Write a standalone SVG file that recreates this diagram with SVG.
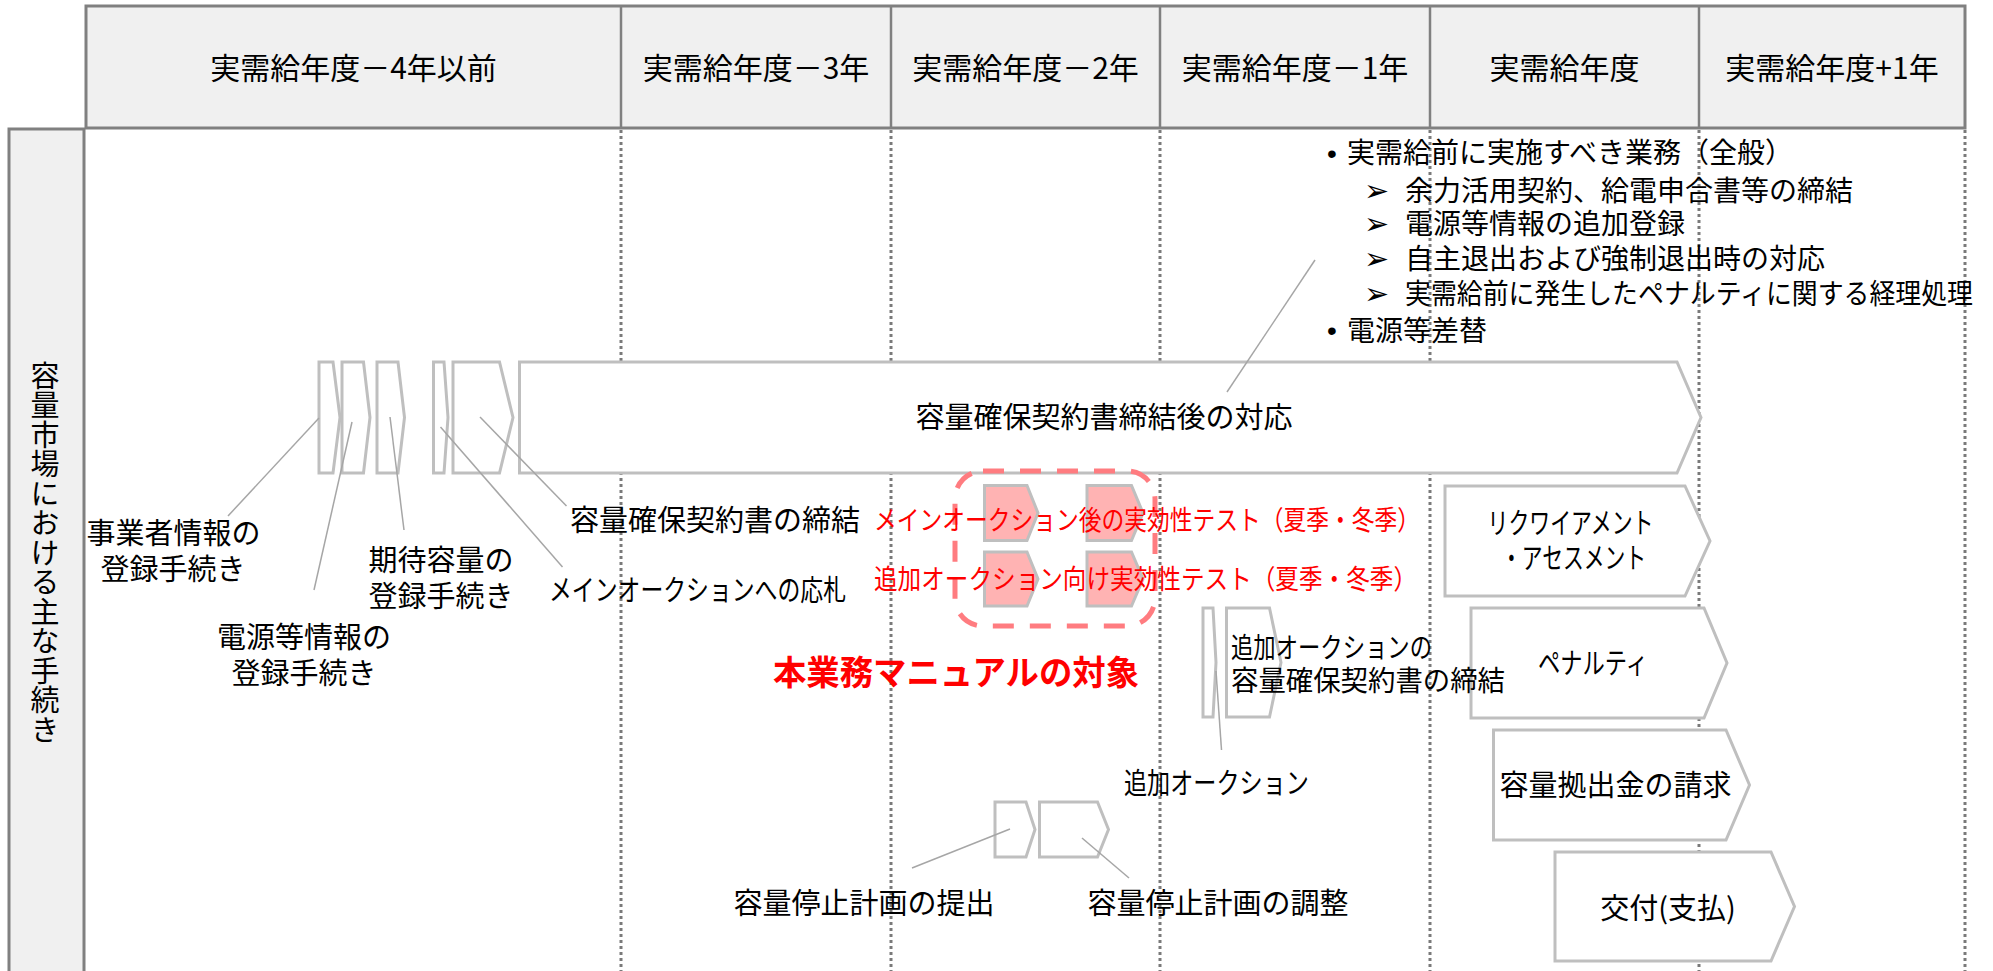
<svg xmlns="http://www.w3.org/2000/svg" width="1993" height="971" viewBox="0 0 1993 971">
<defs>
<style>
text{font-family:"Noto Sans CJK JP","Noto Sans CJK SC",sans-serif;fill:#000;}
.h{font-size:30px;text-anchor:middle}
.t{font-size:29px;text-anchor:middle}
.ts{font-size:28px}
.red{font-size:27px;fill:#ff0000}
.big{font-size:34px;font-weight:bold;fill:#ff0000;text-anchor:middle}
.shape{fill:#fff;stroke:#bfbfbf;stroke-width:3}
.pink{fill:#ffb3b3;stroke:#bfbfbf;stroke-width:3}
.grid{stroke:#7a7a7a;stroke-width:3;stroke-dasharray:3 3;fill:none}
.lead{stroke:#a6a6a6;stroke-width:1.5;fill:none}
.frame{fill:#f0f0f0;stroke:#808080;stroke-width:3}
.div{stroke:#808080;stroke-width:2.5}
.arr{font-family:"DejaVu Sans",sans-serif;font-size:30px;font-weight:bold}
.bul{font-family:"Liberation Sans",sans-serif;font-size:28px}
</style>
</defs>
<rect width="1993" height="971" fill="#fff"/>

<g id="header">
<rect class="frame" x="86" y="6" width="1879" height="122"/>
<line class="div" x1="621" y1="6" x2="621" y2="128"/>
<line class="div" x1="891" y1="6" x2="891" y2="128"/>
<line class="div" x1="1160" y1="6" x2="1160" y2="128"/>
<line class="div" x1="1430" y1="6" x2="1430" y2="128"/>
<line class="div" x1="1699" y1="6" x2="1699" y2="128"/>
<text class="h" x="353.5" y="78.5">実需給年度－4年以前</text>
<text class="h" x="756" y="78.5">実需給年度－3年</text>
<text class="h" x="1025.5" y="78.5">実需給年度－2年</text>
<text class="h" x="1295" y="78.5">実需給年度－1年</text>
<text class="h" x="1564.5" y="78.5">実需給年度</text>
<text class="h" x="1832" y="78.5">実需給年度+1年</text>
</g>

<g id="row-label">
<rect class="frame" x="9" y="129" width="75" height="860"/>
<text x="45" y="553" style="writing-mode:vertical-rl;text-orientation:upright;font-size:29px;letter-spacing:0.5px" text-anchor="middle">容量市場における主な手続き</text>
</g>

<g id="grid">
<line class="grid" x1="621" y1="130" x2="621" y2="971"/>
<line class="grid" x1="891" y1="130" x2="891" y2="971"/>
<line class="grid" x1="1160" y1="130" x2="1160" y2="971"/>
<line class="grid" x1="1430" y1="130" x2="1430" y2="971"/>
<line class="grid" x1="1699" y1="130" x2="1699" y2="971"/>
<line class="grid" x1="1965" y1="130" x2="1965" y2="971"/>
</g>

<g id="notes">
<text class="bul" x="1327" y="163">•</text>
<text class="ts" x="1347" y="163">実需給前に実施すべき業務（全般）</text>
<text class="arr" x="1364" y="201">➢</text>
<text class="ts" x="1405" y="200.5">余力活用契約、給電申合書等の締結</text>
<text class="arr" x="1364" y="234">➢</text>
<text class="ts" x="1405" y="233.5">電源等情報の追加登録</text>
<text class="arr" x="1364" y="269">➢</text>
<text class="ts" x="1405" y="268.5">自主退出および強制退出時の対応</text>
<text class="arr" x="1364" y="304">➢</text>
<text class="ts" x="1405" y="303.5" textLength="568" lengthAdjust="spacingAndGlyphs">実需給前に発生したペナルティに関する経理処理</text>
<text class="bul" x="1327" y="340">•</text>
<text class="ts" x="1347" y="340.5">電源等差替</text>
</g>

<g id="n-jigyosha">
<path class="shape" d="M319,362 H333 L340,417.5 L333,473 H319 Z"/>
<text class="t" x="173.5" y="544">事業者情報の</text>
<text class="t" x="173" y="580">登録手続き</text>
</g>
<g id="n-dengen">
<path class="shape" d="M342,362 H363.5 L370,417.5 L363.5,473 H342 Z"/>
<text class="t" x="304" y="648">電源等情報の</text>
<text class="t" x="304" y="684">登録手続き</text>
</g>
<g id="n-kitai">
<path class="shape" d="M377,362 H398 L404.5,417.5 L398,473 H377 Z"/>
<text class="t" x="441" y="571">期待容量の</text>
<text class="t" x="441" y="607">登録手続き</text>
</g>
<g id="n-main-bid">
<path class="shape" d="M433.5,362 H444 L448,417.5 L444,473 H433.5 Z"/>
<text class="t" x="697.5" y="601" textLength="297" lengthAdjust="spacingAndGlyphs">メインオークションへの応札</text>
</g>
<g id="n-contract">
<path class="shape" d="M453,362 H499.5 L513,417.5 L499.5,473 H453 Z"/>
<text class="t" x="715" y="531">容量確保契約書の締結</text>
</g>
<g id="n-after-contract">
<path class="shape" d="M519.5,362 H1677 L1701,417.5 L1677,473 H519.5 Z"/>
<text class="t" x="1104" y="428">容量確保契約書締結後の対応</text>
</g>

<g id="n-test">
<rect x="955" y="471" width="200" height="155" rx="28" ry="28" fill="none" stroke="#ff7c80" stroke-width="5" stroke-dasharray="21 16"/>
<path class="pink" d="M984.5,485.5 H1027 L1038,513 L1027,540.5 H984.5 Z"/>
<path class="pink" d="M1087,485.5 H1131.5 L1143,513 L1131.5,540.5 H1087 Z"/>
<path class="pink" d="M984.5,552 H1027 L1038,579 L1027,606 H984.5 Z"/>
<path class="pink" d="M1087,552 H1131.5 L1143,579 L1131.5,606 H1087 Z"/>
<text class="red" x="874" y="530" textLength="546" lengthAdjust="spacingAndGlyphs">メインオークション後の実効性テスト（夏季・冬季）</text>
<text class="red" x="874" y="589" textLength="543" lengthAdjust="spacingAndGlyphs">追加オークション向け実効性テスト（夏季・冬季）</text>
<text class="big" x="956" y="685" textLength="366" lengthAdjust="spacingAndGlyphs">本業務マニュアルの対象</text>
</g>

<g id="n-stop-submit">
<path class="shape" d="M995,802 H1026 L1035,829.5 L1026,857 H995 Z"/>
<text class="t" x="864" y="914">容量停止計画の提出</text>
</g>
<g id="n-stop-adjust">
<path class="shape" d="M1039.5,802 H1097.5 L1108.5,829.5 L1097.5,857 H1039.5 Z"/>
<text class="t" x="1218" y="914">容量停止計画の調整</text>
</g>

<g id="n-requirement">
<path class="shape" d="M1445,486 H1685 L1710,541 L1685,596 H1445 Z"/>
<text class="t" x="1570.5" y="534" textLength="166" lengthAdjust="spacingAndGlyphs">リクワイアメント</text>
<text class="t" x="1573.5" y="569" textLength="145" lengthAdjust="spacingAndGlyphs">・アセスメント</text>
</g>
<g id="n-penalty">
<path class="shape" d="M1471,608 H1704 L1727,663 L1704,718 H1471 Z"/>
<text class="t" x="1593" y="674" textLength="110" lengthAdjust="spacingAndGlyphs">ペナルティ</text>
</g>
<g id="n-billing">
<path class="shape" d="M1493.5,730 H1726 L1749.5,785 L1726,840 H1493.5 Z"/>
<text class="t" x="1615.5" y="796">容量拠出金の請求</text>
</g>
<g id="n-payment">
<path class="shape" d="M1555,852 H1771 L1794.5,906.5 L1771,961 H1555 Z"/>
<text class="t" x="1668" y="919">交付(支払)</text>
</g>

<g id="n-add-auction">
<path class="shape" d="M1203,608 H1213 L1216,662.5 L1213,717 H1203 Z"/>
<text class="t" x="1216.5" y="794" textLength="185" lengthAdjust="spacingAndGlyphs">追加オークション</text>
</g>
<g id="n-add-contract">
<path class="shape" d="M1226.5,608 H1269.5 L1281,662.5 L1269.5,717 H1226.5 Z"/>
<text class="ts" x="1231" y="658" textLength="201" lengthAdjust="spacingAndGlyphs">追加オークションの</text>
<text class="ts" x="1231" y="691" textLength="274" lengthAdjust="spacingAndGlyphs">容量確保契約書の締結</text>
</g>

<g id="connectors">
<line class="lead" x1="319" y1="418" x2="228" y2="516"/>
<line class="lead" x1="352" y1="422" x2="314" y2="590"/>
<line class="lead" x1="390" y1="417" x2="404" y2="530"/>
<line class="lead" x1="440.5" y1="427" x2="562.5" y2="567"/>
<line class="lead" x1="480" y1="417" x2="566.5" y2="506"/>
<line class="lead" x1="1227" y1="392" x2="1315" y2="260"/>
<line class="lead" x1="1216" y1="671" x2="1221.5" y2="750"/>
<line class="lead" x1="1010" y1="829" x2="912" y2="868"/>
<line class="lead" x1="1082" y1="838" x2="1129" y2="878"/>
</g>
</svg>
